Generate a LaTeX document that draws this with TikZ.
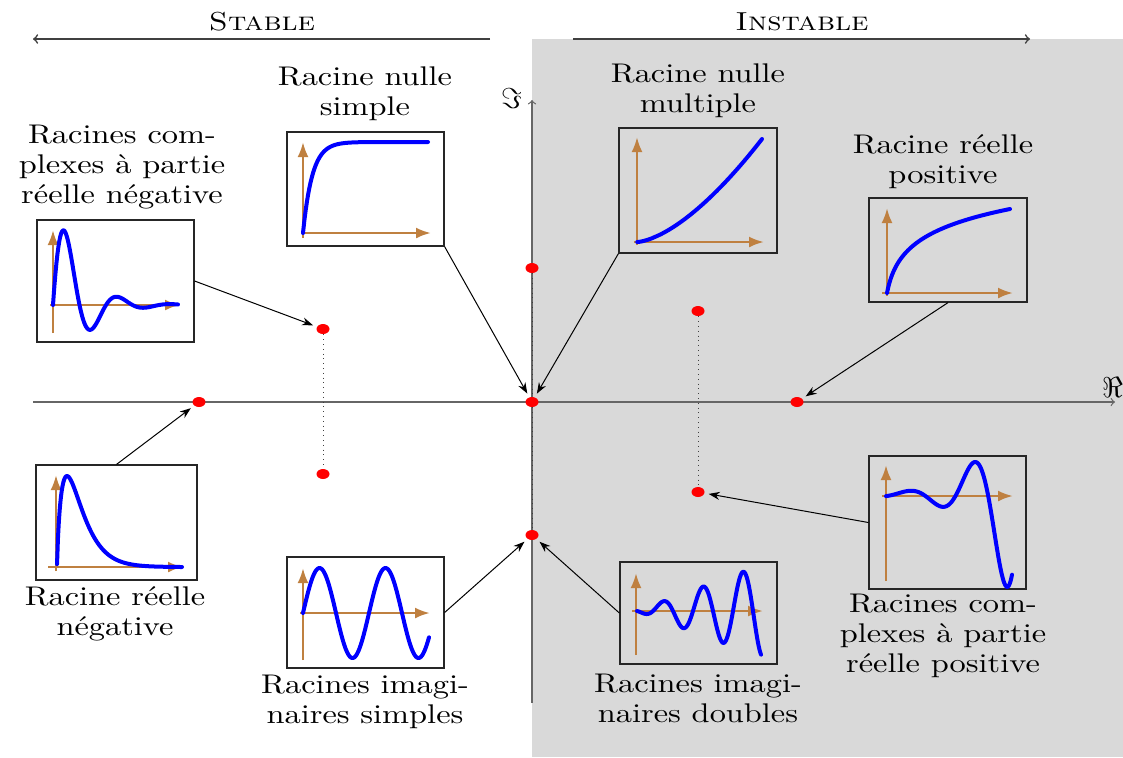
\documentclass[tikz,border=0pt]{standalone}
\usepackage{fontspec}
\setmainfont{lmroman10-regular.otf}[FakeStretch=1.2, SmallCapsFont=lmromancaps10-regular.otf, SmallCapsFeatures={FakeStretch=1.2}]
\usetikzlibrary{arrows.meta, shapes.geometric, fit}
\definecolor{bggray}{RGB}{217,217,217}
\definecolor{axbrown}{RGB}{191,128,64}
\begin{document}
\begin{tikzpicture}[x=0.5pt, y=-0.5pt,
  lbl/.style={align=center, inner sep=0pt, font=\fontsize{13.5}{15}\selectfont},
  toplbl/.style={inner sep=0pt, font=\fontsize{13}{15}\selectfont},
  toparrow/.style={black!75, line width=0.8pt, -to},
  mainaxis/.style={black!60, line width=0.6pt, -to},
  rdot/.style={ellipse, fill=red, minimum width=6.5pt, minimum height=5pt, inner sep=0pt},
  dotline/.style={black!75, line width=0.4pt, dotted},
  pbox/.style={draw=black!85, line width=0.6pt, inner sep=0pt},
  bax/.style={axbrown, line width=1.3pt, -{Latex[length=7.5pt,width=5.5pt]}},
  curve/.style={blue, line width=2pt, line cap=round, line join=round},
  conn/.style={black, line width=0.5pt, -{Stealth[length=5.5pt,width=4pt]}, shorten >=2pt}
]
\useasboundingbox (0,0) rectangle (1123,757);
\fill[bggray] (532,39) rectangle (1123,757);

% top labels and arrows
\node[toplbl] (stable) at (262,22) {\textsc{Stable}};
\node[toplbl] (instable) at (802,22) {\textsc{Instable}};
\coordinate (sL) at (33,39);
\coordinate (sR) at (490,39);
\coordinate (iL) at (573,39);
\coordinate (iR) at (1030,39);
\draw[toparrow] (sR) -- (sL);
\draw[toparrow] (iL) -- (iR);

% main axes
\coordinate (ReL) at (33,402);
\coordinate (ReR) at (1115,402);
\coordinate (ImB) at (532,703);
\coordinate (ImT) at (532,100);
\draw[mainaxis] (ReL) -- (ReR);
\draw[mainaxis] (ImB) -- (ImT);
\node[inner sep=0pt, font=\fontsize{13.5}{15}\selectfont] (relbl) at (1113,387) {$\Re$};
\node[inner sep=0pt, font=\fontsize{13.5}{15}\selectfont] (imlbl) at (512,98) {$\Im$};

% roots
\node[rdot] (dA) at (532,268) {};
\node[rdot] (dO) at (532,402) {};
\node[rdot] (dB) at (532,535) {};
\node[rdot] (dC) at (199,402) {};
\node[rdot] (dD) at (323,329) {};
\node[rdot] (dE) at (323,474) {};
\node[rdot] (dF) at (698,311) {};
\node[rdot] (dG) at (698,492) {};
\node[rdot] (dH) at (797,402) {};
\draw[dotline] (dA) -- (dO);
\draw[dotline] (dO) -- (dB);
\draw[dotline] (dD) -- (dE);
\draw[dotline] (dF) -- (dG);

% box 1 : complex negative real part
\node[pbox, fit={(37,220)(194,342)}] (b1) {};
\draw[bax] (53,333) -- (53,230);
\draw[bax] (50,305) -- (180,305);
\draw[curve] plot[domain=0:125, samples=140] ({53+\x},{305-122*exp(-0.0415*\x)*sin(6.79*\x)});
\node[lbl] (l1) at (122,167) {Racines com-\\plexes à partie\\réelle négative};

% box 2 : simple zero root
\node[pbox, fit={(287,132)(444,246)}] (b2) {};
\draw[bax] (303,238) -- (303,142);
\draw[bax] (301,233) -- (431,233);
\draw[curve] plot[domain=0:125, samples=100] ({303+\x},{233-91*(1-exp(-\x/9.3))});
\node[lbl] (l2) at (365,94) {Racine nulle\\simple};

% box 3 : multiple zero root
\node[pbox, fit={(619,128)(777,253)}] (b3) {};
\draw[bax] (637,245) -- (637,137);
\draw[bax] (634,242) -- (764,242);
\draw[curve] plot[domain=0.2:125, samples=100] ({637+\x},{242-103*(\x/125)^1.56});
\node[lbl] (l3) at (698,91) {Racine nulle\\multiple};

% box 4 : positive real root
\node[pbox, fit={(869,198)(1027,302)}] (b4) {};
\draw[bax] (887,296) -- (887,208);
\draw[bax] (882,293) -- (1013,293);
\draw[curve] plot[domain=0:123, samples=100] ({887+\x},{293-25.905*ln(1+\x/5)});
\node[lbl] (l4) at (943,162) {Racine réelle\\positive};

% box 5 : negative real root
\node[pbox, fit={(36,465)(197,580)}] (b5) {};
\draw[bax] (56,571) -- (56,475);
\draw[bax] (48,567) -- (183,567);
\draw[curve] plot[domain=0.05:125, samples=140] ({57+\x},{567-91*(\x/10)^0.8*exp(0.8*(1-\x/10))});
\node[lbl] (l5) at (115,614) {Racine réelle\\négative};

% box 6 : simple imaginary roots
\node[pbox, fit={(287,557)(444,668)}] (b6) {};
\draw[bax] (303,660) -- (303,568);
\draw[bax] (300,613) -- (430,613);
\draw[curve] plot[domain=0:126, samples=140] ({303+\x},{613-45*sin(5.4545*\x)});
\node[lbl] (l6) at (365,702) {Racines imagi-\\naires simples};

% box 7 : double imaginary roots
\node[pbox, fit={(620,562)(777,664)}] (b7) {};
\draw[bax] (636,655) -- (636,573);
\draw[bax] (632,611) -- (763,611);
\draw[curve] plot[domain=0:124, samples=160] ({637+\x},{611-0.37*\x*sin(9*(\x-16))});
\node[lbl] (l7) at (698,698) {Racines imagi-\\naires doubles};

% box 8 : complex positive real part
\node[pbox, fit={(869,456)(1026,589)}] (b8) {};
\draw[bax] (886,581) -- (886,465);
\draw[bax] (882,496) -- (1013,496);
\draw[curve] plot[domain=0:126, samples=160] ({886+\x},{495-2*exp(0.032*\x)*sin(5.625*(\x-6))});
\node[lbl] (l8) at (943,636) {Racines com-\\plexes à partie\\réelle positive};

% connectors
\draw[conn] (b1.east) -- (dD);
\draw[conn] (b2.south east) -- (dO);
\draw[conn] (b3.south west) -- (dO);
\draw[conn] (b4.south) -- (dH);
\draw[conn] (b5.north) -- (dC);
\draw[conn] (b6.east) -- (dB);
\draw[conn] (b7.west) -- (dB);
\draw[conn] (b8.west) -- (dG);
\end{tikzpicture}
\end{document}
